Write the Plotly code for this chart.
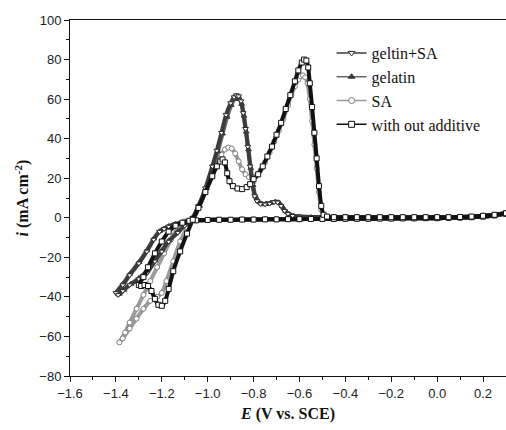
import plotly.graph_objects as go

# Shared flat stretch of the cathodic sweep (0.3 V down to -1.05 V)
base_fwd_E = [0.3, 0.25, 0.2, 0.15, 0.1, 0.05, 0.0, -0.05, -0.1, -0.15, -0.2, -0.25, -0.3,
              -0.35, -0.4, -0.45, -0.5, -0.55, -0.6, -0.65, -0.7, -0.75, -0.8, -0.85, -0.9,
              -0.95, -1.0, -1.05]
base_fwd_i = [2.0, 1.2, 0.6, 0.3, 0.1, 0.0, -0.2, -0.2, -0.3, -0.3, -0.4, -0.4, -0.5,
              -0.5, -0.5, -0.6, -0.6, -0.6, -0.7, -0.7, -0.8, -0.8, -0.9, -0.9, -1.0,
              -1.0, -1.1, -1.3]
# Shared flat stretch of the anodic sweep (-0.45 V back up to 0.3 V)
base_ret_E = [-0.45, -0.4, -0.35, -0.3, -0.25, -0.2, -0.15, -0.1, -0.05, 0.0, 0.05, 0.1,
              0.15, 0.2, 0.25, 0.3]
base_ret_i = [0.3, 0.3, 0.3, 0.3, 0.3, 0.3, 0.3, 0.3, 0.3, 0.3, 0.3, 0.4, 0.6, 1.0, 1.5, 2.3]

# geltin+SA
gsa_fwd_E = [-1.08, -1.11, -1.14, -1.17, -1.19, -1.21, -1.235, -1.265, -1.3, -1.34, -1.37, -1.4]
gsa_fwd_i = [-1.7, -2.3, -3.2, -4.4, -5.6, -7.0, -11, -17, -23, -29, -34, -38]
gsa_ret_E = [-1.39, -1.37, -1.34, -1.3, -1.265, -1.23, -1.2, -1.17, -1.13, -1.1, -1.065,
             -1.04, -1.01, -0.98, -0.96, -0.94, -0.92, -0.9, -0.885, -0.875, -0.865, -0.855,
             -0.845, -0.835, -0.825, -0.815, -0.805, -0.795, -0.785, -0.77, -0.75, -0.73,
             -0.71, -0.695, -0.68, -0.665, -0.65, -0.63, -0.6, -0.55, -0.5]
gsa_ret_i = [-39, -37, -34, -31, -28, -22, -17, -12, -7.5, -4, 0,
             6, 15, 26, 34, 43, 52, 58, 61, 62, 61.5, 59,
             53, 45, 36, 26, 17, 11, 8.5, 7, 6.8, 7.2,
             8, 7.8, 6, 3.5, 2, 1, 0.6, 0.4, 0.3]

# gelatin
gel_fwd_E = [-1.08, -1.11, -1.14, -1.17, -1.19, -1.21, -1.235, -1.265, -1.3, -1.34, -1.37, -1.395]
gel_fwd_i = [-1.6, -2.2, -3.0, -4.2, -5.4, -6.8, -10.5, -16.5, -22.5, -28.5, -33.5, -37.5]
gel_ret_E = [-1.385, -1.365, -1.335, -1.3, -1.265, -1.23, -1.2, -1.17, -1.13, -1.1, -1.06,
             -1.035, -1.005, -0.975, -0.955, -0.935, -0.915, -0.897, -0.882, -0.872, -0.862,
             -0.852, -0.842, -0.832, -0.822, -0.812, -0.802, -0.792, -0.78, -0.765, -0.745,
             -0.725, -0.705, -0.69, -0.675, -0.66, -0.645, -0.625, -0.6, -0.55, -0.5]
gel_ret_i = [-38.5, -36.5, -33.5, -30.5, -27, -21.5, -16.5, -11.5, -7, -3.5, 0,
             6, 15, 25.5, 33.5, 42.5, 51, 57, 60, 60.5, 60,
             57.5, 51.5, 43.5, 34.5, 25, 16.5, 11, 8.5, 7.2, 7.2,
             7.6, 8.2, 7.8, 5.8, 3.3, 1.9, 1, 0.6, 0.4, 0.3]

# SA
sa_fwd_E = [-1.1, -1.13, -1.16, -1.19, -1.22, -1.25, -1.28, -1.31, -1.34, -1.36, -1.385]
sa_fwd_i = [-1.8, -5, -11, -18, -25, -32, -39, -46, -53, -58, -63]
sa_ret_E = [-1.37, -1.34, -1.31, -1.28, -1.25, -1.22, -1.2, -1.18, -1.15, -1.12, -1.09,
            -1.065, -1.04, -1.01, -0.98, -0.96, -0.94, -0.925, -0.91, -0.895, -0.88, -0.865,
            -0.85, -0.835, -0.82, -0.805, -0.79, -0.77, -0.75, -0.73, -0.71, -0.69, -0.67,
            -0.65, -0.635, -0.62, -0.605, -0.595, -0.585, -0.575, -0.565, -0.555, -0.545,
            -0.535, -0.525, -0.515, -0.505, -0.495, -0.48]
sa_ret_i = [-61, -56, -51, -46, -42, -40, -38, -32, -22, -12, -5,
            0, 6, 13, 21, 27, 32, 34.5, 35.5, 35, 32.5, 28.5,
            24.5, 22, 20.5, 20, 21, 24, 28, 33, 38.5, 44, 50,
            57, 62, 66.5, 70, 71.5, 72, 71, 68, 60, 49,
            37, 25, 13, 4, 1, 0.5]

# with out additive
wo_fwd_E = [-1.08, -1.11, -1.14, -1.17, -1.2, -1.23, -1.26, -1.28, -1.3]
wo_fwd_i = [-1.5, -2.5, -4, -7, -12, -18, -25, -30, -34]
wo_ret_E = [-1.29, -1.275, -1.26, -1.245, -1.23, -1.215, -1.2, -1.185, -1.17, -1.15, -1.12,
            -1.09, -1.065, -1.04, -1.01, -0.98, -0.96, -0.945, -0.935, -0.925, -0.915,
            -0.905, -0.89, -0.87, -0.85, -0.83, -0.815, -0.8, -0.78, -0.76, -0.74, -0.72,
            -0.7, -0.68, -0.66, -0.64, -0.62, -0.605, -0.59, -0.58, -0.57, -0.562, -0.555,
            -0.545, -0.535, -0.525, -0.515, -0.505, -0.495, -0.48]
wo_ret_i = [-34.5, -34, -34.5, -37, -41, -44, -44.5, -42, -36, -27, -17,
            -8, -1, 5, 13, 21, 26, 28.5, 29.5, 28, 22.5,
            18.5, 16, 14.8, 14.5, 15.5, 17, 19.5, 22, 26, 31, 36,
            42, 48, 55, 62, 69, 74.5, 78.5, 80, 79.5, 76, 68,
            56, 43, 30, 16, 6, 1.5, 0.6]

series = [
    # name, sweeps, line colour, symbol, marker fill, marker edge, legend rank
    ("SA", sa_fwd_E, sa_fwd_i, sa_ret_E, sa_ret_i, "#9a9a9a", "circle", "white", "#808080", 3),
    ("gelatin", gel_fwd_E, gel_fwd_i, gel_ret_E, gel_ret_i, "#6a6a6a", "triangle-up", "#3a3a3a", "#3a3a3a", 2),
    ("geltin+SA", gsa_fwd_E, gsa_fwd_i, gsa_ret_E, gsa_ret_i, "#3c3c3c", "triangle-down", "white", "#2a2a2a", 1),
    ("with out additive", wo_fwd_E, wo_fwd_i, wo_ret_E, wo_ret_i, "#111111", "square", "white", "#111111", 4),
]

fig = go.Figure()
for name, fE, fi, rE, ri, col, sym, mfill, medge, rank in series:
    E = base_fwd_E + fE + rE + base_ret_E
    cur = base_fwd_i + fi + ri + base_ret_i
    # thick voltammogram trace
    fig.add_trace(go.Scatter(
        x=E, y=cur, name=name, mode="lines+markers", showlegend=False, legendgroup=name,
        line=dict(color=col, width=4, shape="spline", smoothing=0.6),
        marker=dict(symbol=sym, size=5, color=mfill, line=dict(color=medge, width=1)),
    ))
    # thin-line legend key for the same series
    fig.add_trace(go.Scatter(
        x=[None], y=[None], name=name, mode="lines+markers", legendgroup=name,
        legendrank=rank,
        line=dict(color=col, width=1.5),
        marker=dict(symbol=sym, size=6, color=mfill, line=dict(color=medge, width=1)),
    ))

tick_font = dict(family="Liberation Sans, Arial", size=13, color="#222222")
title_font = dict(family="Liberation Serif, Times New Roman", size=16, color="#111111")

fig.update_layout(
    width=506, height=430,
    margin=dict(l=70, r=0, t=20, b=54),
    paper_bgcolor="white", plot_bgcolor="white",
    showlegend=True,
    legend=dict(x=0.6, y=0.955, xanchor="left", yanchor="top",
                bgcolor="rgba(0,0,0,0)", borderwidth=0,
                font=dict(family="Liberation Serif, Times New Roman", size=16, color="#111111"),
                itemwidth=30, tracegroupgap=0),
)
fig.update_xaxes(
    range=[-1.6, 0.3], dtick=0.2, tick0=-1.6, tickformat=".1f",
    showgrid=False, zeroline=False,
    showline=True, linecolor="#111111", linewidth=1, mirror=True,
    ticks="outside", ticklen=5, tickcolor="#111111",
    minor=dict(ticks="outside", ticklen=3, dtick=0.1, tickcolor="#111111", showgrid=False),
    tickfont=tick_font,
    title=dict(text="<b><i>E</i> (V vs. SCE)</b>", font=title_font, standoff=8),
)
fig.update_yaxes(
    range=[-80, 100], dtick=20, tick0=0,
    showgrid=False, zeroline=False,
    showline=True, linecolor="#111111", linewidth=1, mirror=False,
    ticks="outside", ticklen=5, tickcolor="#111111",
    minor=dict(ticks="outside", ticklen=3, dtick=10, tickcolor="#111111", showgrid=False),
    tickfont=tick_font,
    title=dict(text="<b><i>i</i> (mA cm<sup>-2</sup>)</b>", font=title_font, standoff=6),
)

fig.write_html("out.html")
